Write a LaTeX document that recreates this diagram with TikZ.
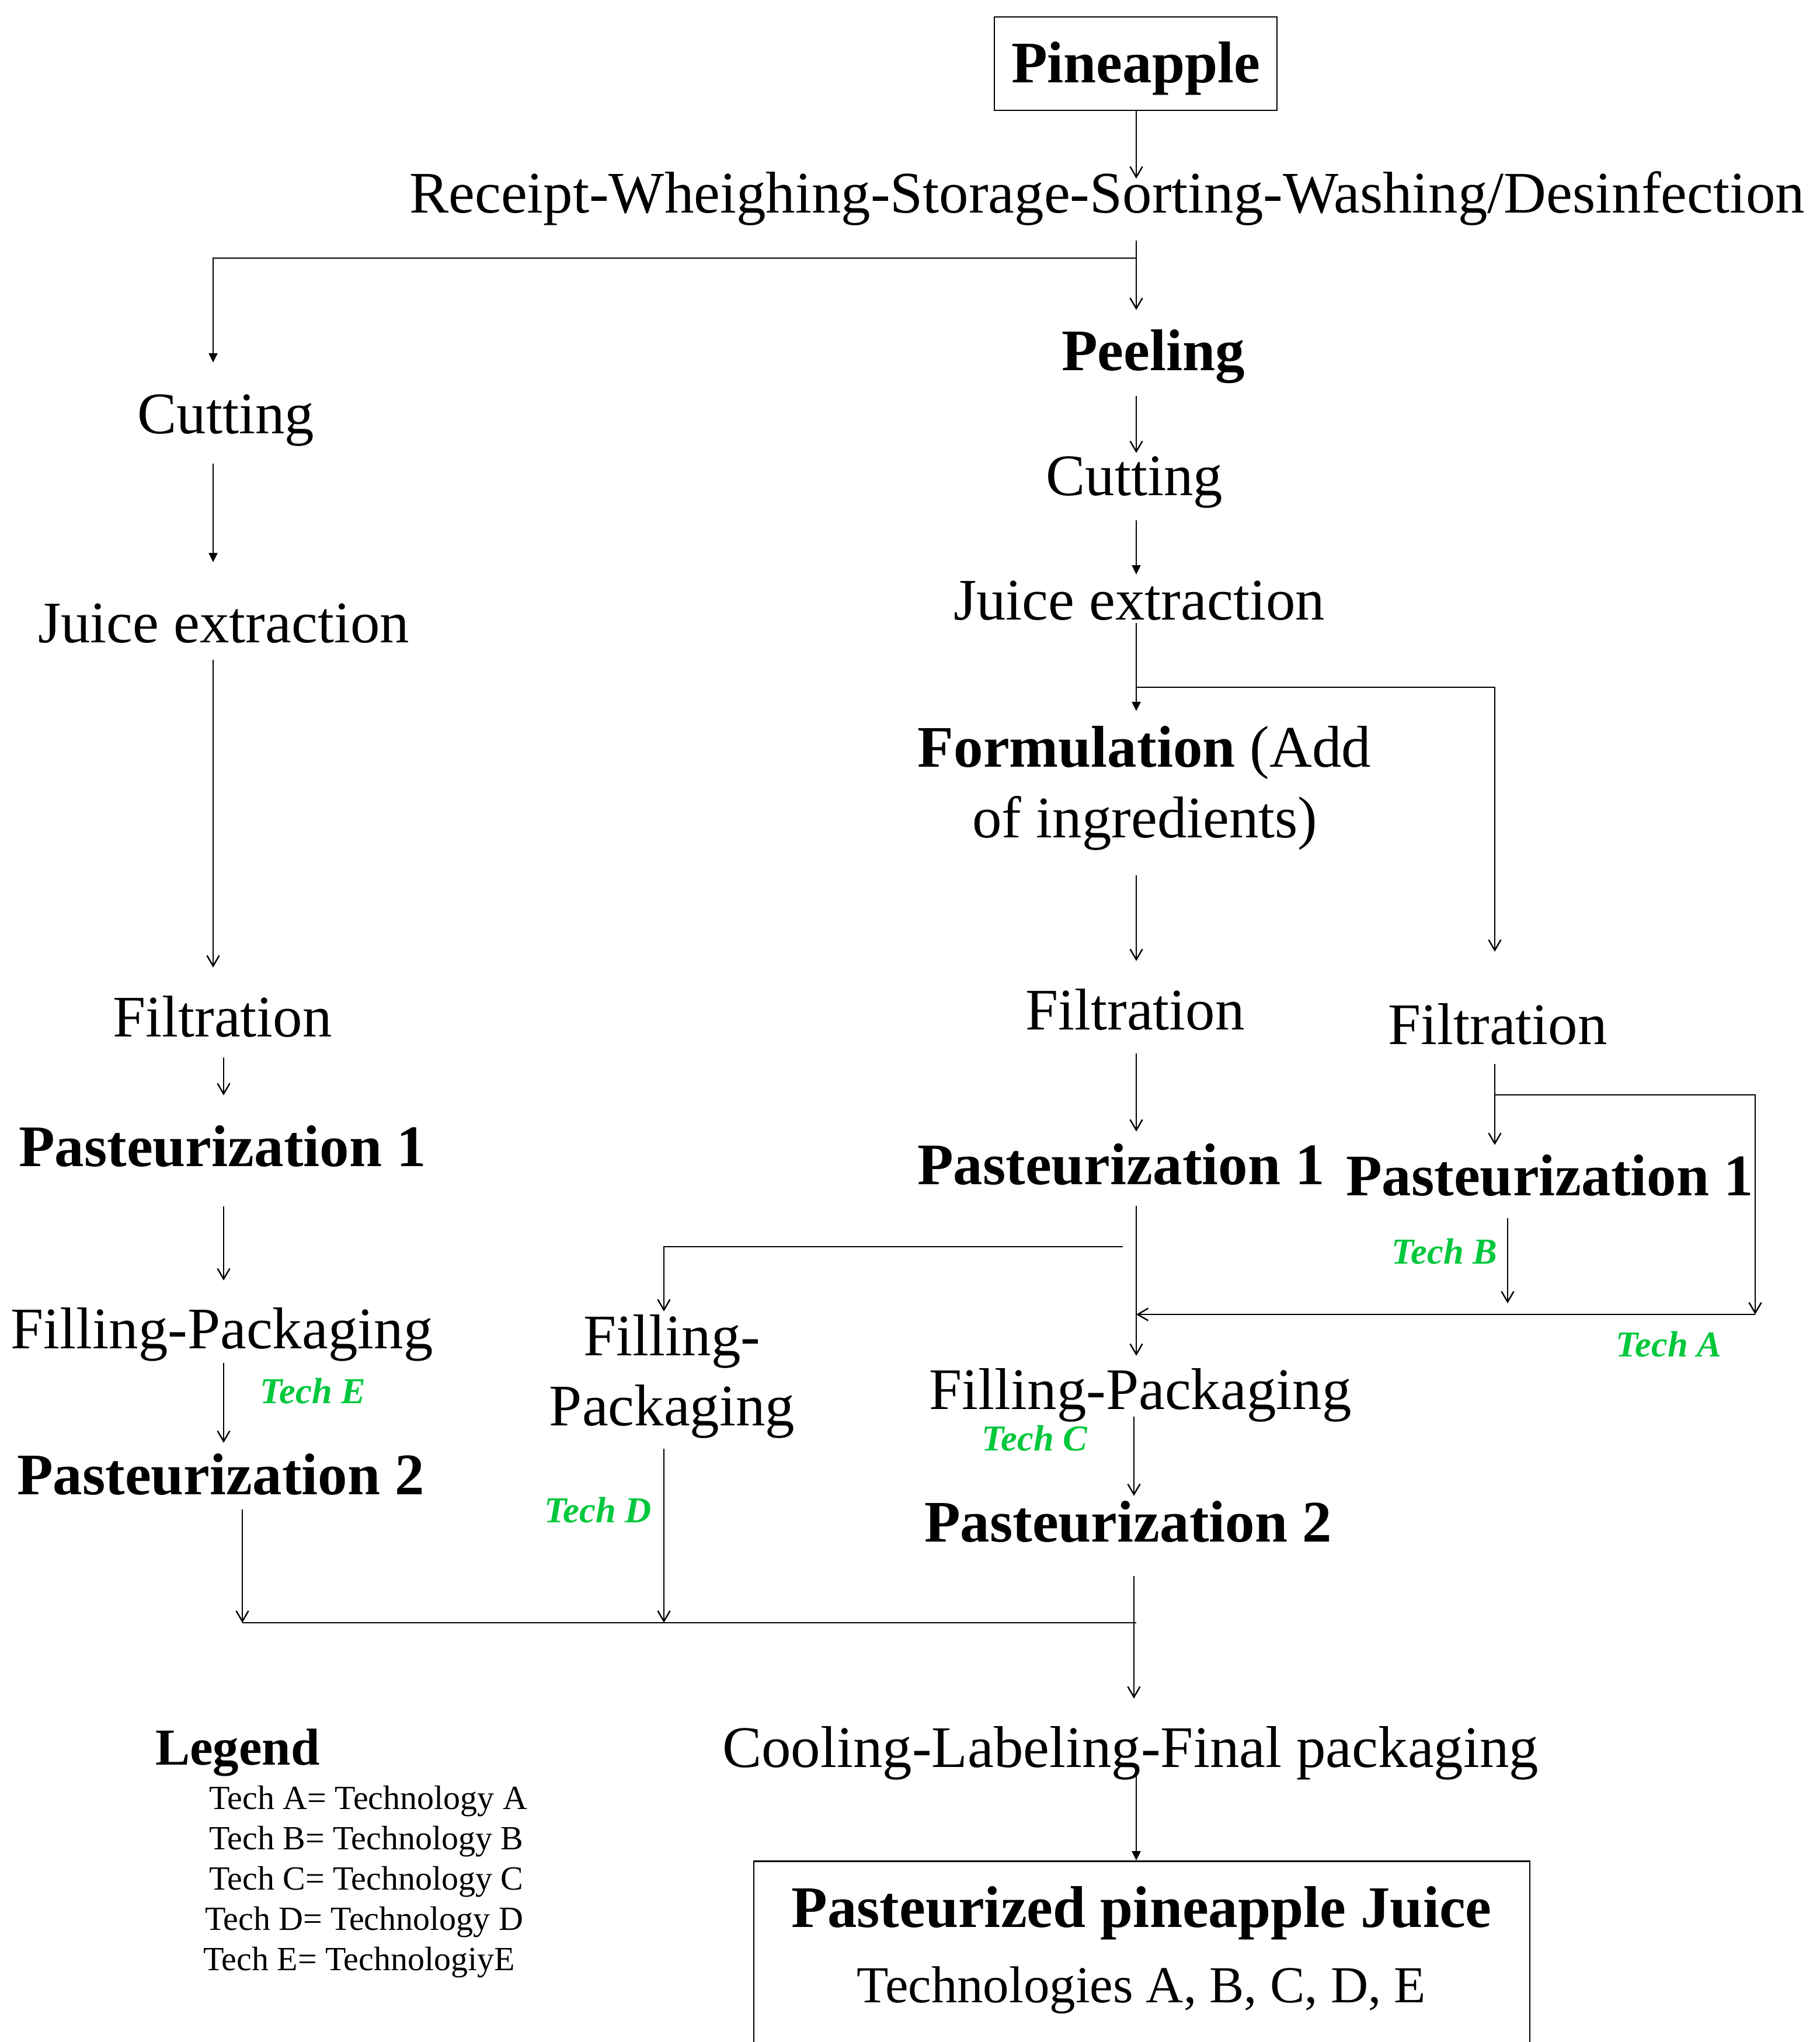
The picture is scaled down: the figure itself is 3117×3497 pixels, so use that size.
\documentclass[tikz,border=0pt]{standalone}
\usepackage{fontspec}
\setmainfont{Liberation Serif}
\usetikzlibrary{arrows.meta}
\definecolor{techgreen}{RGB}{0,200,60}

\begin{document}
\begin{tikzpicture}[x=0.1mm,y=-0.1mm,line width=0.7pt,
	stage/.style={font=\fontsize{28.7}{34}\selectfont,anchor=base,inner sep=0pt},
	bstage/.style={stage,font=\fontsize{28.7}{34}\selectfont\bfseries},
	gap/.style 2 args={text height=#1,text depth=#2},
	tech/.style={font=\fontsize{17.8}{20}\selectfont\bfseries\itshape,text=techgreen,anchor=base,inner sep=0pt},
	legtitle/.style={font=\fontsize{25.3}{30}\selectfont\bfseries,anchor=base,inner sep=0pt},
	legline/.style={font=\fontsize{16.5}{19}\selectfont,anchor=base west,inner sep=0pt},
	flow/.style={-{Straight Barb[length=1.8mm,width=2.1mm]}},
	fflow/.style={-{Triangle[length=1.6mm,width=1.5mm]}}]
	\useasboundingbox (0,0) rectangle (3117,3497);

	% columns and junctions
	\coordinate (colM) at (1946,0);
	\coordinate (colMb) at (1942,0);
	\coordinate (colF) at (2560,0);
	\coordinate (colD) at (1137,0);
	\coordinate (xl1) at (365,0);
	\coordinate (xl2) at (383,0);
	\coordinate (xl3) at (415,0);
	\coordinate (split1) at (1946,442);
	\coordinate (split2) at (1946,1177);
	\coordinate (brA) at (2560,1875);
	\coordinate (cornA) at (3006,2251);
	\coordinate (tipB) at (2582,2232);
	\coordinate (brD) at (1923,2135);
	\coordinate (jl) at (415,2779);

	% main column
	\node[draw,font=\fontsize{28.7}{34}\selectfont\bfseries,minimum width=48.4mm,minimum height=16mm,inner sep=0pt,text height=7mm,text depth=0.6mm] (pine) at (1945,109) {Pineapple};
	\node[stage,gap={5.7mm}{4.7mm}] (recv) at (1896,364) {Receipt-Wheighing-Storage-Sorting-Washing/Desinfection};
	\node[bstage,gap={10.2mm}{4.3mm}] (peel) at (1975,634) {Peeling};
	\node[stage,gap={7.1mm}{4.2mm}] (cutR) at (1943,848) {Cutting};
	\node[stage,gap={7.6mm}{0.5mm}] (juiR) at (1951,1061) {Juice extraction};
	\node[stage,gap={9.4mm}{1mm}] (formA) at (1960,1313) {\textbf{Formulation} (Add};
	\node[stage,gap={5mm}{6.4mm}] (formB) at (1961,1434) {of ingredients)};
	\node[stage,gap={11.6mm}{4mm}] (filM) at (1944,1763) {Filtration};
	\node[bstage,gap={8.9mm}{3.6mm}] (pasM) at (1920,2028) {Pasteurization 1};
	\node[stage,gap={9mm}{1.2mm}] (fillM) at (1953,2413) {Filling-Packaging};
	\node[bstage,gap={7.7mm}{5.8mm}] (pas2M) at (1932,2640) {Pasteurization 2};
	\node[stage,gap={11.6mm}{0.3mm}] (cool) at (1936,3026) {Cooling-Labeling-Final packaging};
	\node[draw,minimum width=132.9mm,minimum height=33mm,anchor=north,inner sep=0pt] (juice) at (1955.5,3186) {};
	\node[bstage] (juiceT) at (1955,3300) {Pasteurized pineapple Juice};
	\node[stage,font=\fontsize{25.3}{30}\selectfont] (juiceS) at (1955,3429) {Technologies A, B, C, D, E};

	% right column
	\node[stage,gap={15.7mm}{3.3mm}] (filR) at (2565,1788) {Filtration};
	\node[bstage,gap={8.5mm}{3.8mm}] (pasR) at (2654,2047) {Pasteurization 1};

	% left column
	\node[stage,gap={12mm}{5.1mm}] (cutL) at (387,742) {Cutting};
	\node[stage,gap={13.6mm}{2.9mm}] (juiL) at (383,1100) {Juice extraction};
	\node[stage,gap={11.7mm}{3.5mm}] (filL) at (381,1775) {Filtration};
	\node[bstage,gap={12mm}{6.8mm}] (pasL) at (381,1997) {Pasteurization 1};
	\node[stage,gap={11.5mm}{2.4mm}] (fillL) at (380,2309) {Filling-Packaging};
	\node[bstage,gap={8.7mm}{2.5mm}] (pas2L) at (378,2559) {Pasteurization 2};

	% tech D branch
	\node[stage,gap={7.4mm}{1mm}] (fillDa) at (1151,2321) {Filling-};
	\node[stage,gap={5mm}{3.9mm}] (fillDb) at (1151,2441) {Packaging};

	% technology labels
	\node[tech] (techA) at (2858,2323) {Tech A};
	\node[tech] (techB) at (2474,2164) {Tech B};
	\node[tech] (techC) at (1772,2484) {Tech C};
	\node[tech] (techD) at (1024,2607) {Tech D};
	\node[tech] (techE) at (536,2403) {Tech E};

	% legend
	\node[legtitle] (legend) at (407,3022) {Legend};
	\node[legline] (legA) at (357,3098) {Tech A= Technology A};
	\node[legline] (legB) at (357,3167) {Tech B= Technology B};
	\node[legline] (legC) at (357,3236) {Tech C= Technology C};
	\node[legline] (legD) at (350,3305) {Tech D= Technology D};
	\node[legline] (legE) at (347,3374) {Tech E= TechnologiyE};

	% connectors
	\draw[flow] (pine.south -| colM) -- (recv.north -| colM);
	\draw[flow] (recv.south -| colM) -- (peel.north -| colM);
	\draw[fflow] (split1) -| (cutL.north -| xl1);
	\draw[flow] (peel.south -| colM) -- (cutR.north -| colM);
	\draw[fflow] (cutR.south -| colM) -- (juiR.north -| colM);
	\draw[fflow] (juiR.south -| colM) -- (formA.north -| colM);
	\draw[flow] (split2) -| (filR.north -| colF);
	\draw[flow] (formB.south -| colM) -- (filM.north -| colM);
	\draw[flow] (filM.south -| colM) -- (pasM.north -| colM);
	\draw[flow] (pasM.south -| colM) -- (fillM.north -| colM);
	\draw[flow] (fillM.south -| colMb) -- (pas2M.north -| colMb);
	\draw[flow] (pas2M.south -| colMb) -- (cool.north -| colMb);
	\draw[fflow] (cool.south -| colM) -- (juice.north -| colM);

	\draw[flow] (filR.south -| colF) -- (pasR.north -| colF);
	\draw[flow] (brA) -| (cornA);
	\draw[flow] (cornA) -- (cornA -| colM);
	\draw[flow] (pasR.south -| tipB) -- (tipB);

	\draw[flow] (brD) -| (fillDa.north -| colD);
	\draw[flow] (fillDb.south -| colD) -- (colD |- jl);

	\draw[fflow] (cutL.south -| xl1) -- (juiL.north -| xl1);
	\draw[flow] (juiL.south -| xl1) -- (filL.north -| xl1);
	\draw[flow] (filL.south -| xl2) -- (pasL.north -| xl2);
	\draw[flow] (pasL.south -| xl2) -- (fillL.north -| xl2);
	\draw[flow] (fillL.south -| xl2) -- (pas2L.north -| xl2);
	\draw[flow] (pas2L.south -| xl3) -- (jl);
	\draw (jl) -- (colM |- jl);
\end{tikzpicture}
\end{document}
